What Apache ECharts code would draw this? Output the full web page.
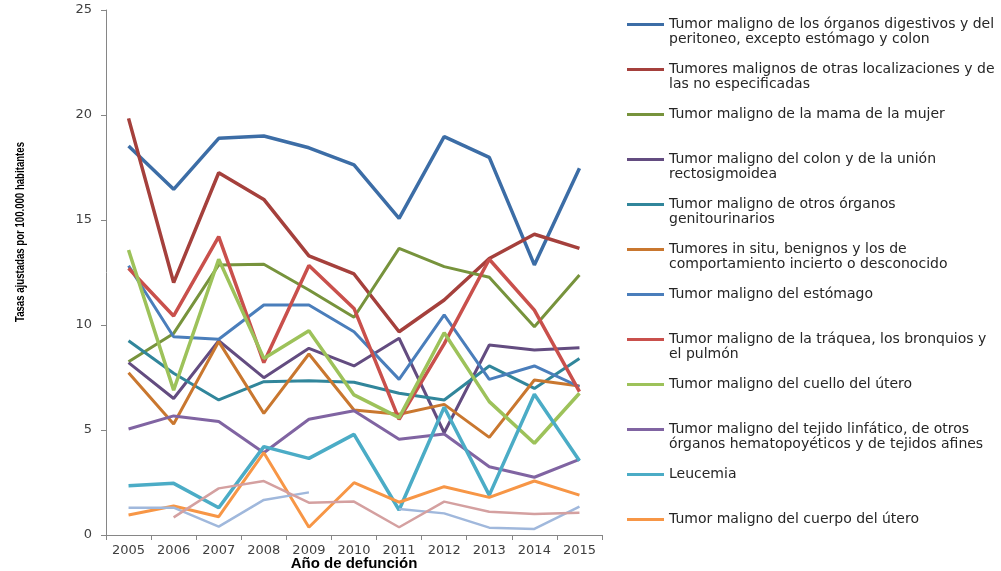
<!DOCTYPE html>
<html>
<head>
<meta charset="utf-8">
<script src="https://cdn.jsdelivr.net/npm/echarts@6/dist/echarts.min.js"></script>
<style>
html,body{margin:0;padding:0;background:#fff;}
#chart{width:1001px;height:571px;}
</style>
</head>
<body>
<div id="chart"></div>
<script>
const years = ['2005','2006','2007','2008','2009','2010','2011','2012','2013','2014','2015'];

const seriesNames = [
  'Tumor maligno de los órganos digestivos y del\nperitoneo, excepto estómago y colon',
  'Tumores malignos de otras localizaciones y de\nlas no especificadas',
  'Tumor maligno de la mama de la mujer',
  'Tumor maligno del colon y de la unión\nrectosigmoidea',
  'Tumor maligno de otros órganos\ngenitourinarios',
  'Tumores in situ, benignos y los de\ncomportamiento incierto o desconocido',
  'Tumor maligno del estómago',
  'Tumor maligno de la tráquea, los bronquios y\nel pulmón',
  'Tumor maligno del cuello del útero',
  'Tumor maligno del tejido linfático, de otros\nórganos hematopoyéticos y de tejidos afines',
  'Leucemia',
  'Tumor maligno del cuerpo del útero',
  'Serie 13',
  'Serie 14'
];

const digestivos    = [18.52, 16.46, 18.89, 19.00, 18.44, 17.62, 15.08, 18.97, 17.98, 12.86, 17.46];
const otrasLocal    = [19.84, 12.02, 17.25, 15.98, 13.29, 12.43, 9.68, 11.19, 13.17, 14.32, 13.65];
const mama          = [8.25, 9.60, 12.86, 12.89, 11.67, 10.37, 13.65, 12.78, 12.27, 9.92, 12.38];
const colon         = [8.21, 6.50, 9.25, 7.49, 8.89, 8.05, 9.37, 4.87, 9.05, 8.81, 8.92];
const genitouri     = [9.25, 7.70, 6.43, 7.30, 7.35, 7.27, 6.75, 6.43, 8.05, 6.98, 8.41];
const inSitu        = [7.73, 5.29, 9.21, 5.79, 8.62, 5.95, 5.75, 6.22, 4.65, 7.38, 7.10];
const estomago      = [12.82, 9.44, 9.32, 10.95, 10.95, 9.68, 7.41, 10.48, 7.41, 8.05, 7.06];
const pulmon        = [12.70, 10.43, 14.21, 8.21, 12.83, 10.79, 5.51, 9.10, 13.13, 10.71, 6.83];
const cuelloUtero   = [13.57, 6.90, 13.13, 8.41, 9.73, 6.67, 5.59, 9.63, 6.35, 4.37, 6.75];
const linfatico     = [5.05, 5.67, 5.40, 3.92, 5.51, 5.92, 4.56, 4.81, 3.25, 2.75, 3.60];
const leucemia      = [2.35, 2.46, 1.30, 4.21, 3.65, 4.79, 1.19, 6.08, 1.90, 6.70, 3.54];
const cuerpoUtero   = [0.95, 1.38, 0.87, 3.92, 0.37, 2.49, 1.56, 2.30, 1.79, 2.57, 1.90];
const serie13       = [1.30, 1.30, 0.40, 1.67, 2.03, null, 1.24, 1.03, 0.35, 0.29, 1.35];
const serie14       = [null, 0.84, 2.22, 2.57, 1.54, 1.59, 0.37, 1.59, 1.11, 1.00, 1.06];

const yTicks = [0, 5, 10, 15, 20, 25];

const allValues = [digestivos, otrasLocal, mama, colon, genitouri, inSitu, estomago, pulmon, cuelloUtero, linfatico, leucemia, cuerpoUtero, serie13, serie14];
const colors = ['#3C6DA6','#A5403C','#77933C','#634C80','#31869B','#C9772F','#4A7EBB','#C9504C','#9DC25A','#8064A2','#4BACC6','#F79646','#A0B8DC','#D4A0A0'];
const widths = [3.5, 3.5, 3, 3, 3, 3, 3, 3.5, 3.5, 3, 3.5, 3, 2.5, 2.5];

const chart = echarts.init(document.getElementById('chart'));

const series = allValues.map((vals, i) => ({
  name: seriesNames[i],
  type: 'line',
  data: vals,
  symbol: 'none',
  connectNulls: false,
  color: colors[i],
  lineStyle: { width: widths[i], color: colors[i] },
  emphasis: { disabled: true },
  animation: false
}));

chart.setOption({
  animation: false,
  backgroundColor: '#ffffff',
  grid: { left: 106, right: 399, top: 10, bottom: 36, containLabel: false, outerBoundsMode: 'none' },
  xAxis: {
    type: 'category',
    data: years,
    boundaryGap: true,
    name: 'Año de defunción',
    nameLocation: 'middle',
    nameGap: 21,
    nameMoveOverlap: false,
    nameTextStyle: { fontFamily: '"Liberation Sans", Arial, sans-serif', fontWeight: 'bold', fontSize: 15, color: '#000', verticalAlign: 'top' },
    axisLine: { lineStyle: { color: '#868686', width: 1 } },
    axisTick: { show: true, length: 5, lineStyle: { color: '#868686' } },
    axisLabel: { fontFamily: 'DejaVu Sans', fontSize: 13, color: '#404040', margin: 9 },
    splitLine: { show: false }
  },
  yAxis: {
    type: 'value',
    min: yTicks[0],
    max: yTicks[yTicks.length - 1],
    interval: 5,
    axisLine: { show: true, lineStyle: { color: '#868686', width: 1 } },
    axisTick: { show: true, length: 5, lineStyle: { color: '#868686' } },
    axisLabel: { fontFamily: 'DejaVu Sans', fontSize: 13, color: '#404040', margin: 14 },
    splitLine: { show: false }
  },
  legend: {
    orient: 'vertical',
    left: 627,
    top: 2,
    padding: 0,
    itemGap: 0,
    itemWidth: 37,
    itemHeight: 3,
    icon: 'rect',
    data: seriesNames.slice(0, 12),
    selectedMode: false,
    formatter: function (name) {
      return ' \n' + name + (name.indexOf('\n') < 0 ? '\n ' : '');
    },
    textStyle: { fontFamily: 'DejaVu Sans', fontSize: 14, color: '#262626', lineHeight: 15 }
  },
  graphic: [{
    type: 'text',
    x: 20,
    y: 232,
    rotation: Math.PI / 2,
    scaleX: 0.74,
    style: {
      text: 'Tasas ajustadas por 100.000 habitantes',
      fontFamily: '"Liberation Sans", sans-serif',
      fontWeight: 'bold',
      fontSize: 13,
      fill: '#000',
      align: 'center',
      verticalAlign: 'middle'
    }
  }],
  series: series
});
</script>
</body>
</html>
